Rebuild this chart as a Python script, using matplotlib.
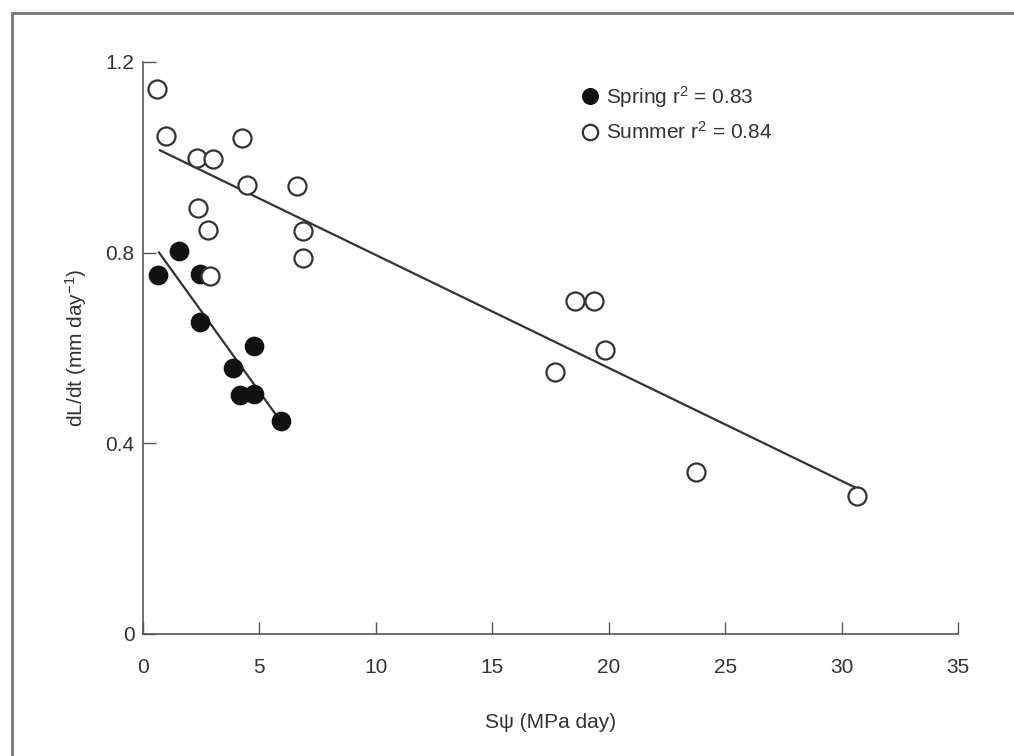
import numpy as np
import matplotlib
matplotlib.use("Agg")
import matplotlib.pyplot as plt
from matplotlib.patches import Rectangle

plt.rcParams['font.family'] = ['Liberation Sans', 'DejaVu Sans']
plt.rcParams['mathtext.fontset'] = 'custom'
plt.rcParams['mathtext.rm'] = 'Liberation Sans'
plt.rcParams['mathtext.it'] = 'Liberation Sans:italic'

# spring (filled)
spring_x = [0.64, 1.55, 2.45, 2.45, 3.87, 4.17, 4.77, 4.77, 5.93]
spring_y = [0.753, 0.803, 0.755, 0.654, 0.558, 0.502, 0.604, 0.504, 0.447]
# summer (open)
summer_x = [0.60, 0.97, 2.31, 3.02, 4.24, 4.46, 2.36, 2.79, 2.88, 6.60, 6.87, 6.87,
            18.55, 19.36, 19.84, 17.69, 23.74, 30.66]
summer_y = [1.143, 1.045, 0.998, 0.996, 1.040, 0.942, 0.894, 0.847, 0.750, 0.940, 0.846, 0.788,
            0.699, 0.699, 0.596, 0.550, 0.340, 0.289]
# regression lines (slope, intercept, x range)
spring_fit = (-0.0678, 0.847, 0.69, 6.0)
summer_fit = (-0.0237, 1.032, 0.73, 30.7)
spring_lab = 'Spring r$^2$ = 0.83'
summer_lab = 'Summer r$^2$ = 0.84'

col = '#333333'
fig = plt.figure(figsize=(10.14, 7.56), dpi=100)
ax = fig.add_axes([0.141, 0.1614, 0.804, 0.7566])

for s, b, x0, x1 in [spring_fit, summer_fit]:
    xx = np.array([x0, x1])
    ax.plot(xx, s * xx + b, color='#333333', lw=1.6, zorder=2)

ax.plot(spring_x, spring_y, 'o', ms=13, mfc='#111111', mec='#111111', mew=1.2,
        label=spring_lab, zorder=3)
ax.plot(summer_x, summer_y, 'o', ms=13, mfc='white', mec='#333333', mew=1.6,
        label=summer_lab, zorder=3)

ax.set_xlim(0, 35)
ax.set_ylim(0, 1.2)
ax.set_xticks(range(0, 36, 5))
ax.set_yticks([0, 0.4, 0.8, 1.2])
ax.set_yticklabels(['0', '0.4', '0.8', '1.2'])
for sp in ['top', 'right']:
    ax.spines[sp].set_visible(False)
for sp in ['left', 'bottom']:
    ax.spines[sp].set_color('#555555')
    ax.spines[sp].set_linewidth(1.2)
ax.tick_params(direction='in', length=9, width=1, color='#555555',
               labelsize=15, labelcolor=col)
ax.tick_params(axis='x', pad=17)
ax.tick_params(axis='y', pad=6)
ax.set_xlabel('S\u03c8 (MPa day)', fontsize=15, color=col, labelpad=26)
ax.set_ylabel('dL/dt (mm day$^{-1}$)', fontsize=15, color=col, labelpad=12)

leg = ax.legend(loc='upper left', bbox_to_anchor=(0.516, 0.995), frameon=False,
                fontsize=15, markerscale=0.85, handlelength=0.7, handletextpad=0.45,
                labelspacing=0.55, labelcolor=col)

# outer frame (cropped page border)
fig.patches.append(Rectangle((12 / 1014, -0.1), 1.2, (756 - 13) / 756 + 0.1,
                             transform=fig.transFigure, fill=False,
                             edgecolor='#777777', lw=2, clip_on=False))

fig.savefig('out.png', dpi=100)
